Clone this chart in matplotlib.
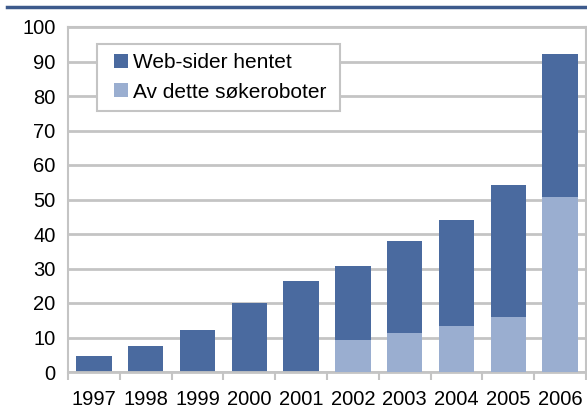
import matplotlib
matplotlib.use("Agg")
import matplotlib.pyplot as plt
from matplotlib.lines import Line2D
from matplotlib.patches import Rectangle
import numpy as np

years = ["1997", "1998", "1999", "2000", "2001", "2002", "2003", "2004", "2005", "2006"]
web_pages = [4.5, 7.6, 12.3, 20.0, 26.5, 30.8, 38.0, 44.0, 54.2, 92.2]
bots = [0, 0, 0, 0, 0, 9.3, 11.4, 13.2, 15.8, 50.8]

dark = "#4a6a9f"
light = "#9aaed0"
grid = "#c4c4c4"

plt.rcParams["font.family"] = ["Liberation Sans", "DejaVu Sans"]

fig = plt.figure(figsize=(5.87, 4.09), dpi=100)
ax = fig.add_axes([68 / 587, 37 / 409, 518 / 587, 345 / 409])

x = np.arange(len(years))
ax.bar(x, web_pages, width=0.68, color=dark, zorder=2, label="Web-sider hentet")
ax.bar(x, bots, width=0.68, color=light, zorder=3, label="Av dette søkeroboter")

ax.set_xlim(-0.5, len(years) - 0.5)
ax.set_ylim(0, 100)
ax.set_yticks(np.arange(0, 101, 10))
ax.yaxis.grid(True, color=grid, linewidth=2, zorder=0)
ax.set_axisbelow(True)

ax.set_xticks(x)
ax.set_xticklabels(years)
ax.set_xticks(np.arange(-0.5, len(years), 1), minor=True)
ax.tick_params(axis="x", which="major", length=0, pad=13, labelsize=14.5)
ax.tick_params(axis="x", which="minor", length=6, width=1.5, color=grid, direction="out")
ax.tick_params(axis="y", length=0, pad=9, labelsize=14.5)

for s in ["left", "right", "top", "bottom"]:
    ax.spines[s].set_color(grid)
    ax.spines[s].set_linewidth(1.5)
ax.spines["bottom"].set_linewidth(2)

# legend box drawn separately so the inner spacing can match
ax.add_patch(Rectangle((0.056, 0.757), 0.469, 0.194, transform=ax.transAxes,
                       facecolor="white", edgecolor=grid, linewidth=1.5, zorder=4))
leg = ax.legend(loc="center left", bbox_to_anchor=(0.0888, 0.854), fontsize=15,
                frameon=False, handlelength=0.67, handleheight=0.67,
                handletextpad=0.25, borderpad=0, labelspacing=0.5, borderaxespad=0)
leg.set_zorder(5)

# dark rule across the top
fig.add_artist(Line2D([7 / 587, 1], [1 - 7 / 409, 1 - 7 / 409], color="#3d5a8c",
                      linewidth=2.5, transform=fig.transFigure))

fig.savefig("out.png", dpi=100)
